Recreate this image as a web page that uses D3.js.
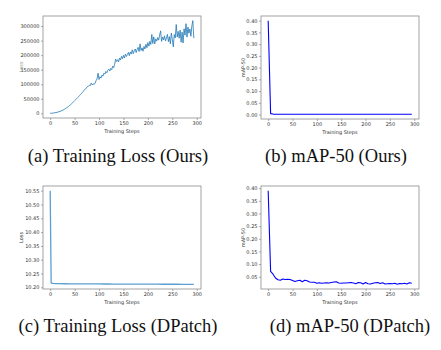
<!DOCTYPE html>
<html>
<head>
<meta charset="utf-8">
<script src="https://cdn.jsdelivr.net/npm/d3@7"></script>
<style>
  body { margin: 0; background: #fff; }
  svg { display: block; }
</style>
</head>
<body>
<div id="fig"></div>
<script>
// ---- data ----
const lossOursSteps = d3.range(0, 295, 2);
const lossOurs = [
  0, 0.3, 0.7, 1.1, 1.6, 2.2, 2.9, 3.6, 4.5, 5.6,
  6.8, 8.1, 9.6, 11.2, 12.9, 15.0, 17.1, 19.4, 21.8, 24.3,
  27.5, 30.2, 33.4, 36.5, 40.1, 43.6, 46.8, 50.5, 53.9, 57.2,
  61.0, 64.8, 68.1, 72.3, 75.9, 80.2, 83.5, 87.1, 91.8, 93.2,
  96.5, 95.1, 103.8, 98.2, 101.5, 99.0, 104.2, 112.6, 118.3, 138.0,
  116.4, 125.9, 121.2, 131.5, 127.8, 138.4, 135.1, 144.0, 139.6, 148.2,
  151.9, 145.3, 154.7, 150.2, 162.4, 157.0, 168.9, 186.3, 178.1, 184.5,
  176.8, 190.2, 183.4, 195.8, 187.6, 199.3, 190.1, 203.7, 195.4, 201.9,
  209.5, 198.2, 211.0, 203.6, 218.4, 205.1, 214.7, 221.3, 208.9, 219.5,
  226.8, 212.4, 238.6, 216.0, 224.9, 213.5, 229.8, 221.1, 237.4, 225.6,
  243.2, 231.0, 247.5, 236.8, 271.3, 240.1, 262.7, 238.4, 255.9, 248.2,
  260.4, 251.7, 268.9, 283.5, 247.3, 262.1, 252.6, 266.4, 249.0, 258.8,
  271.5, 246.2, 263.7, 238.9, 276.0, 254.3, 228.5, 270.8, 259.1, 305.2,
  262.4, 281.7, 258.3, 285.9, 244.6, 279.2, 241.8, 290.5, 268.7, 308.1,
  262.0, 296.4, 275.3, 289.8, 265.1, 300.7, 318.6, 258.4
].map(v => v * 1000);

const mapSteps = d3.range(0, 296, 5);
const mapOurs = [
  0.400, 0.004, 0.002, 0.001, 0.001, 0.001, 0.001, 0.001, 0.001, 0.001,
  0.001, 0.001, 0.001, 0.001, 0.001, 0.001, 0.001, 0.001, 0.001, 0.001,
  0.001, 0.001, 0.001, 0.001, 0.001, 0.001, 0.001, 0.001, 0.001, 0.001,
  0.001, 0.001, 0.001, 0.001, 0.001, 0.001, 0.001, 0.001, 0.001, 0.001,
  0.001, 0.001, 0.001, 0.001, 0.001, 0.001, 0.001, 0.001, 0.001, 0.001,
  0.001, 0.001, 0.001, 0.001, 0.001, 0.001, 0.001, 0.001, 0.001, 0.001
];

const lossDPatchSteps = [0, 2, 4, 6, 10, 15, 20, 30, 40, 50, 60, 70, 80, 90, 100,
  110, 120, 130, 140, 150, 160, 170, 180, 190, 200, 210, 220, 230, 240, 250,
  260, 270, 280, 290, 294];
const lossDPatch = [10.550, 10.216, 10.2145, 10.2140, 10.2136, 10.2134, 10.2132, 10.2130,
  10.2128, 10.2127, 10.2126, 10.2125, 10.2124, 10.2123, 10.2122, 10.2121, 10.2120,
  10.2119, 10.2118, 10.2117, 10.2116, 10.2116, 10.2115, 10.2114, 10.2114, 10.2113,
  10.2113, 10.2112, 10.2112, 10.2111, 10.2111, 10.2110, 10.2110, 10.2109, 10.2109];

const mapDPatch = [
  0.390, 0.071, 0.060, 0.045, 0.038, 0.036, 0.041, 0.039, 0.040, 0.039,
  0.035, 0.031, 0.034, 0.036, 0.030, 0.036, 0.034, 0.029, 0.028, 0.028,
  0.024, 0.026, 0.024, 0.025, 0.026, 0.025, 0.027, 0.029, 0.030, 0.025,
  0.024, 0.025, 0.025, 0.026, 0.027, 0.025, 0.022, 0.027, 0.026, 0.021,
  0.027, 0.022, 0.021, 0.024, 0.026, 0.027, 0.023, 0.026, 0.021, 0.022,
  0.023, 0.022, 0.024, 0.020, 0.023, 0.022, 0.024, 0.021, 0.026, 0.024
];

const xTicks = [0, 50, 100, 150, 200, 250, 300];
const yTicksLossOurs = [0, 50000, 100000, 150000, 200000, 250000, 300000];
const yTicksMapOurs = [0, 0.05, 0.10, 0.15, 0.20, 0.25, 0.30, 0.35, 0.40];
const yTicksLossDPatch = [10.20, 10.25, 10.30, 10.35, 10.40, 10.45, 10.50, 10.55];
const yTicksMapDPatch = [0.05, 0.10, 0.15, 0.20, 0.25, 0.30, 0.35, 0.40];

const captions = ["(a) Training Loss (Ours)", "(b) mAP-50 (Ours)",
                  "(c) Training Loss (DPatch)", "(d) mAP-50 (DPatch)"];

// ---- layout ----
const width = 441, height = 350;
const svg = d3.select("#fig").append("svg")
    .attr("width", width)
    .attr("height", height);

function padded(ext) {
    const p = (ext[1] - ext[0]) * 0.05;
    return [ext[0] - p, ext[1] + p];
}

function drawPanel(p) {
    const w = p.right - p.left, h = p.bottom - p.top;
    const g = svg.append("g")
        .attr("transform", "translate(" + p.left + "," + p.top + ")");

    const x = d3.scaleLinear().domain(padded(d3.extent(p.steps))).range([0, w]);
    const y = d3.scaleLinear().domain(padded(d3.extent(p.values))).range([h, 0]);

    const xAxis = g.append("g")
        .attr("transform", "translate(0," + h + ")")
        .call(d3.axisBottom(x).tickValues(xTicks).tickSize(2).tickPadding(1.5).tickFormat(d3.format("d")));
    const yAxis = g.append("g")
        .call(d3.axisLeft(y).tickValues(p.yTicks).tickSize(2).tickPadding(1.5).tickFormat(p.fmt));

    [xAxis, yAxis].forEach(a => {
        a.select(".domain").remove();
        a.selectAll("line").attr("stroke", "#555").attr("stroke-width", 0.5);
        a.selectAll("text")
            .attr("fill", "#333")
            .style("font-family", "DejaVu Sans")
            .style("font-size", "5px");
    });

    const line = d3.line()
        .x((d, i) => x(p.steps[i]))
        .y(d => y(d));

    g.append("path")
        .datum(p.values)
        .attr("fill", "none")
        .attr("stroke", p.color)
        .attr("stroke-width", p.lw)
        .attr("stroke-linejoin", "round")
        .attr("d", line);

    g.append("rect")
        .attr("width", w)
        .attr("height", h)
        .attr("fill", "none")
        .attr("stroke", "#8c8c8c")
        .attr("stroke-width", 0.8);

    g.append("text")
        .attr("x", w / 2)
        .attr("y", h + 14.5)
        .attr("text-anchor", "middle")
        .attr("fill", "#333")
        .style("font-family", "DejaVu Sans")
        .style("font-size", "5px")
        .text("Training Steps");

    g.append("text")
        .attr("transform", "translate(" + (-p.ylabOff) + "," + (h / 2) + ") rotate(-90)")
        .attr("text-anchor", "middle")
        .attr("fill", p.ylabColor || "#333")
        .style("font-family", "DejaVu Sans")
        .style("font-size", "5px")
        .text(p.ylabel);

    svg.append("text")
        .attr("x", p.capX)
        .attr("y", p.capY)
        .attr("text-anchor", "middle")
        .attr("fill", "#111")
        .style("font-family", "Liberation Serif")
        .style("font-size", "18.5px")
        .text(p.caption);
}

drawPanel({ left: 43, right: 201, top: 16, bottom: 118, steps: lossOursSteps, values: lossOurs,
    yTicks: yTicksLossOurs, fmt: d3.format("d"), color: "#1f77b4", lw: 0.8,
    ylabel: "Loss", ylabOff: 20, ylabColor: "#999", caption: captions[0], capX: 118, capY: 162 });
drawPanel({ left: 261, right: 419, top: 16, bottom: 119, steps: mapSteps, values: mapOurs,
    yTicks: yTicksMapOurs, fmt: d3.format(".2f"), color: "#0000ff", lw: 1.1,
    ylabel: "mAP-50", ylabOff: 16, caption: captions[1], capX: 336, capY: 162 });
drawPanel({ left: 43, right: 201, top: 186, bottom: 289, steps: lossDPatchSteps, values: lossDPatch,
    yTicks: yTicksLossDPatch, fmt: d3.format(".2f"), color: "#5b9fd0", lw: 1.3,
    ylabel: "Loss", ylabOff: 20, caption: captions[2], capX: 118, capY: 332 });
drawPanel({ left: 261, right: 419, top: 186, bottom: 289, steps: mapSteps, values: mapDPatch,
    yTicks: yTicksMapDPatch, fmt: d3.format(".2f"), color: "#0000ff", lw: 1.1,
    ylabel: "mAP-50", ylabOff: 16, caption: captions[3], capX: 350, capY: 332 });
</script>
</body>
</html>
